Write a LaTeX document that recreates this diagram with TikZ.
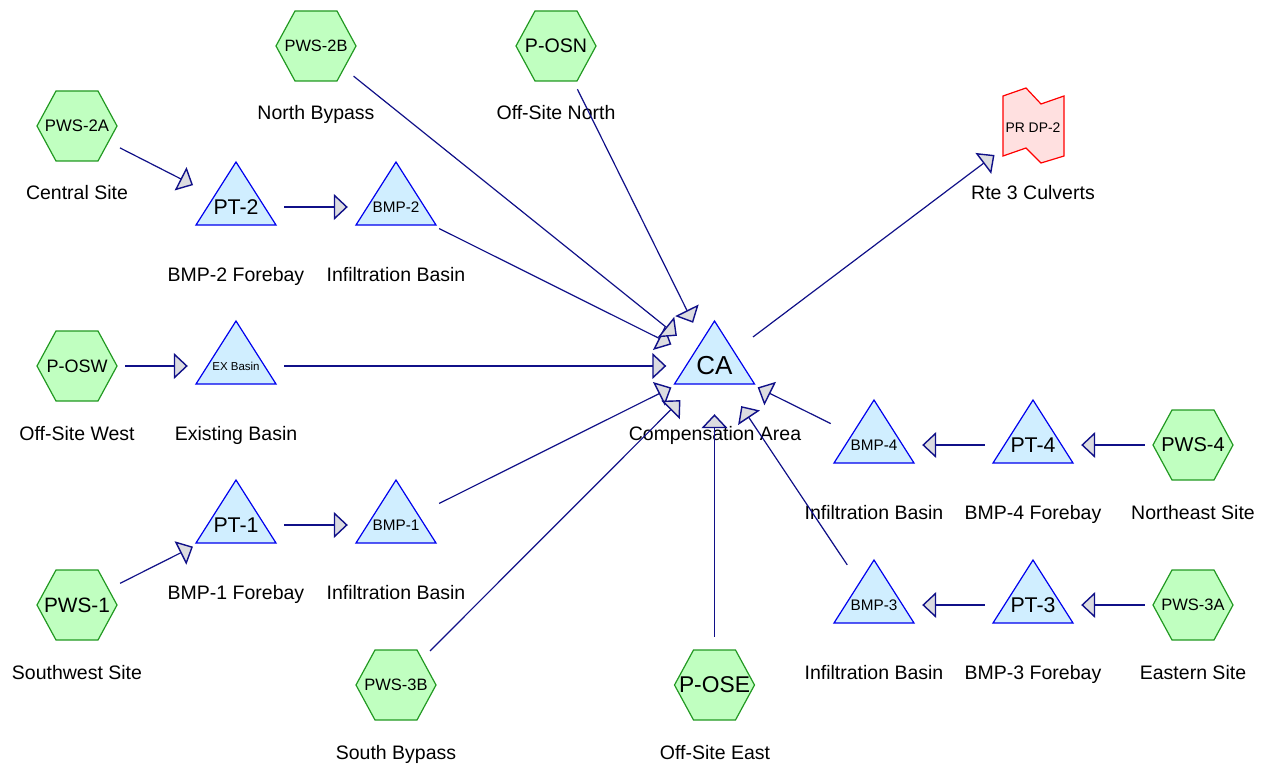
\documentclass[tikz,border=0pt]{standalone}
\usepackage{fontspec}
\setmainfont{Liberation Sans}
\usetikzlibrary{arrows.meta}
\definecolor{hexfill}{HTML}{C0FFC0}
\definecolor{hexline}{HTML}{229922}
\definecolor{trifill}{HTML}{D0EEFF}
\definecolor{triline}{HTML}{0000EE}
\definecolor{redfill}{HTML}{FFE0E0}
\definecolor{redline}{HTML}{FF0000}
\definecolor{navyline}{HTML}{101088}
\definecolor{tipfill}{HTML}{DCDCE0}
\newcommand\fsz[1]{\fontsize{#1}{#1}\selectfont}
\newcommand\hexat[1]{\path[hexshape] (#1.center) ++(-40,0) -- ++(19,-35) -- ++(42,0) -- ++(19,35) -- ++(-19,35) -- ++(-42,0) -- cycle;}
\newcommand\triat[1]{\path[trishape] (#1.center) ++(-40,18) -- ++(80,0) -- ++(-40,-63) -- cycle;}
\begin{document}
\begin{tikzpicture}[x=1pt,y=-1pt,
 port/.style={circle,minimum size=96pt,inner sep=0pt,draw=none},
 hexshape/.style={fill=hexfill,draw=hexline,line width=1.2pt},
 trishape/.style={fill=trifill,draw=triline,line width=1.2pt},
 redshape/.style={fill=redfill,draw=redline,line width=1.2pt},
 intext/.style={inner sep=0pt,text=black},
 lab/.style={anchor=base,inner sep=0pt,font=\fsz{19.5}},
 flow/.style={draw=navyline,line width=1.2pt,-{Triangle[length=14pt,width=26pt,fill=tipfill,line width=1.4pt]}},
]
\useasboundingbox (0,0) rectangle (1267,765);

% ports (invisible connection circles)
\node[port] (pws2a) at (77,126) {};
\node[port] (pws2b) at (316,46) {};
\node[port] (posn) at (556,46) {};
\node[port] (posw) at (77,366) {};
\node[port] (pws1) at (77,605) {};
\node[port] (pws3b) at (396,685) {};
\node[port] (pose) at (714.5,685) {};
\node[port] (pws4) at (1193,445) {};
\node[port] (pws3a) at (1193,605) {};
\node[port] (pt2) at (236,207) {};
\node[port] (bmp2) at (396,207) {};
\node[port] (ex) at (236,366) {};
\node[port] (ca) at (714.5,366) {};
\node[port] (bmp4) at (874,445) {};
\node[port] (pt4) at (1033,445) {};
\node[port] (pt1) at (236,525) {};
\node[port] (bmp1) at (396,525) {};
\node[port] (bmp3) at (874,605) {};
\node[port] (pt3) at (1033,605) {};
\node[port] (prdp2) at (1033,126) {};

% shapes
\hexat{pws2a}\hexat{pws2b}\hexat{posn}\hexat{posw}\hexat{pws1}
\hexat{pws3b}\hexat{pose}\hexat{pws4}\hexat{pws3a}
\triat{pt2}\triat{bmp2}\triat{ex}\triat{ca}\triat{bmp4}
\triat{pt4}\triat{pt1}\triat{bmp1}\triat{bmp3}\triat{pt3}
\path[redshape] (prdp2.center) ++(-30,-30) -- ++(23,-8) -- ++(15,16) -- ++(23,-8)
  -- ++(0,60) -- ++(-23,7) -- ++(-15,-15) -- ++(-23,8) -- cycle;

% texts inside shapes
\node[intext,font=\fsz{16.7}] (pws2a-t) at (pws2a.center) {PWS-2A};
\node[intext,font=\fsz{16.4}] (pws2b-t) at (pws2b.center) {PWS-2B};
\node[intext,font=\fsz{19.6}] (posn-t) at (posn.center) {P-OSN};
\node[intext,font=\fsz{18}] (posw-t) at (posw.center) {P-OSW};
\node[intext,font=\fsz{20.8}] (pws1-t) at (pws1.center) {PWS-1};
\node[intext,font=\fsz{16.5}] (pws3b-t) at (pws3b.center) {PWS-3B};
\node[intext,font=\fsz{22.8}] (pose-t) at (pose.center) {P-OSE};
\node[intext,font=\fsz{20}] (pws4-t) at (pws4.center) {PWS-4};
\node[intext,font=\fsz{16.5}] (pws3a-t) at (pws3a.center) {PWS-3A};
\node[intext,font=\fsz{21.3}] (pt2-t) at (pt2.center) {PT-2};
\node[intext,font=\fsz{15.3}] (bmp2-t) at (bmp2.center) {BMP-2};
\node[intext,font=\fsz{11.5}] (ex-t) at (ex.center) {EX Basin};
\node[intext,font=\fsz{26}] (ca-t) at (ca.center) {CA};
\node[intext,font=\fsz{15.3}] (bmp4-t) at (bmp4.center) {BMP-4};
\node[intext,font=\fsz{21.3}] (pt4-t) at (pt4.center) {PT-4};
\node[intext,font=\fsz{21.3}] (pt1-t) at (pt1.center) {PT-1};
\node[intext,font=\fsz{15.3}] (bmp1-t) at (bmp1.center) {BMP-1};
\node[intext,font=\fsz{15.3}] (bmp3-t) at (bmp3.center) {BMP-3};
\node[intext,font=\fsz{21.3}] (pt3-t) at (pt3.center) {PT-3};
\node[intext,font=\fsz{13.9}] (prdp2-t) at (1033,128) {PR DP-2};

% labels
\node[lab] (pws2a-l) at (77,200) {Central Site};
\node[lab] (pws2b-l) at (316,120) {North Bypass};
\node[lab] (posn-l) at (556,120) {Off-Site North};
\node[lab] (posw-l) at (77,440) {Off-Site West};
\node[lab] (pws1-l) at (77,679) {Southwest Site};
\node[lab] (pws3b-l) at (396,759) {South Bypass};
\node[lab] (pose-l) at (715,759) {Off-Site East};
\node[lab] (pws4-l) at (1193,519) {Northeast Site};
\node[lab] (pws3a-l) at (1193,679) {Eastern Site};
\node[lab] (pt2-l) at (236,281) {BMP-2 Forebay};
\node[lab] (bmp2-l) at (396,281) {Infiltration Basin};
\node[lab] (ex-l) at (236,440) {Existing Basin};
\node[lab] (ca-l) at (715,440) {Compensation Area};
\node[lab] (bmp4-l) at (874,519) {Infiltration Basin};
\node[lab] (pt4-l) at (1033,519) {BMP-4 Forebay};
\node[lab] (pt1-l) at (236,599) {BMP-1 Forebay};
\node[lab] (bmp1-l) at (396,599) {Infiltration Basin};
\node[lab] (bmp3-l) at (874,679) {Infiltration Basin};
\node[lab] (pt3-l) at (1033,679) {BMP-3 Forebay};
\node[lab] (prdp2-l) at (1033,200) {Rte 3 Culverts};

% connectors
\draw[flow] (pws2a) -- (pt2);
\draw[flow] (pt2) -- (bmp2);
\draw[flow] (bmp2) -- (ca);
\draw[flow] (pws2b) -- (ca);
\draw[flow] (posn) -- (ca);
\draw[flow] (ca) -- (prdp2);
\draw[flow] (posw) -- (ex);
\draw[flow] (ex) -- (ca);
\draw[flow] (pws1) -- (pt1);
\draw[flow] (pt1) -- (bmp1);
\draw[flow] (bmp1) -- (ca);
\draw[flow] (pws3b) -- (ca);
\draw[flow] (pose) -- (ca);
\draw[flow] (bmp3) -- (ca);
\draw[flow] (bmp4) -- (ca);
\draw[flow] (pt4) -- (bmp4);
\draw[flow] (pws4) -- (pt4);
\draw[flow] (pt3) -- (bmp3);
\draw[flow] (pws3a) -- (pt3);
\end{tikzpicture}
\end{document}
